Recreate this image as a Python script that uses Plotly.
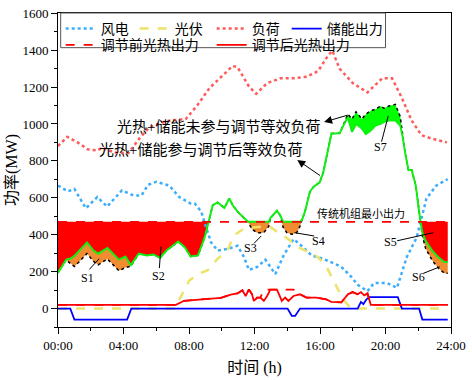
import plotly.graph_objects as go

# ---------------- data ----------------
tick_hours = [0, 4, 8, 12, 16, 20, 24]
tick_text = ["00:00", "04:00", "08:00", "12:00", "16:00", "20:00", "24:00"]

t_load = [0, 0.57, 1.2, 1.8, 2.4, 2.7, 3.0, 3.5, 4.3, 5.0, 5.6, 6.6, 7.8, 8.5, 9.25, 10.0, 10.66,
          10.96, 11.3, 11.66, 12.1, 12.77, 13.57, 14.38, 15.18, 15.88, 16.49, 16.75, 17.19, 18.0,
          18.9, 19.8, 20.4, 21.0, 21.6, 22.2, 22.8, 23.5, 23.75]
load = [880, 930, 900, 863, 856, 872, 860, 845, 842, 925, 983, 1015, 1027, 1100, 1194, 1260, 1314,
        1308, 1260, 1203, 1163, 1221, 1247, 1247, 1256, 1286, 1370, 1397, 1300, 1221,
        1171, 1247, 1247, 1141, 1018, 939, 921, 904, 900]

t_wind = [0, 0.6, 1.0, 1.7, 2.4, 3.0, 3.9, 4.6, 5.1, 5.5, 6.0, 6.8, 7.4, 8.1, 8.35, 8.75, 9.05, 9.35,
          9.75, 10.36, 10.96, 11.36, 11.66, 12.17, 12.66, 13.27, 13.78, 14.38, 14.98, 15.48, 16.19,
          16.9, 17.3, 17.9, 18.3, 18.9, 19.3, 20.1, 20.7, 21.3, 21.9, 22.5, 23.1, 23.8]
wind = [666, 635, 648, 543, 604, 552, 640, 613, 613, 670, 687, 666, 604, 569, 569, 525, 437, 358,
        314, 323, 340, 279, 209, 226, 265, 187, 288, 376, 332, 288, 270,
        244, 226, 173, 129, 94, 138, 138, 112, 279, 384, 596, 666, 701]

t_pv = [0, 7.1, 7.74, 8.0, 8.55, 9.15, 9.75, 10.36, 10.7, 11.3, 12.0, 12.9, 13.3, 14.0, 14.7, 15.7,
        16.3, 16.7, 17.1, 17.5, 17.9, 23.8]
pv = [0, 0, 103, 150, 187, 208, 270, 314, 393, 430, 440, 446, 420, 380, 330, 290,
      244, 173, 103, 41, 0, 0]

t_storage = [0, 0.75, 1.0, 4.22, 4.48, 14.02, 14.28, 14.48, 14.78, 18.3, 18.5, 18.65, 18.84, 19.0,
             20.75, 21.0, 22.05, 22.25, 23.8]
storage = [0, 0, -60, -60, 0, 0, -40, -40, 0, 0, 36, 24, 50, 62,
           62, 0, 0, -60, -60]

t_csp = [0, 7.2, 7.7, 9.2, 9.95, 10.55, 10.96, 11.26, 11.46, 11.66, 11.85, 11.96, 12.16, 12.36,
         12.57, 12.77, 12.97, 13.37, 13.67, 13.87, 14.07, 14.38, 14.78, 15.18, 15.78, 16.38, 16.68,
         17.3, 17.7, 17.99, 18.3, 18.5, 18.7, 18.9, 19.1, 23.8]
csp_after = [20, 20, 42, 50, 58, 75, 82, 99, 68, 103, 77, 41, 59, 59,
             41, 68, 103, 103, 41, 59, 41, 68, 77, 59, 59, 50, 36,
             33, 77, 89, 77, 89, 71, 82, 20, 20]
csp_before = [20, 20, 42, 50, 58, 75, 82, 99, 68, 103, 77, 41, 59, 59,
              103, 103, 103, 103, 103, 103, 103, 103, 77, 59, 59, 50, 36,
              33, 77, 89, 77, 89, 71, 82, 20, 20]

t_eq = [0, 0.5, 0.8, 1.0, 1.3, 1.77, 2.17, 2.45, 3.02, 3.72, 4.12, 4.45, 4.93, 5.43, 5.83, 6.23,
        6.63, 7.34, 7.74, 8.1, 8.55, 8.95, 9.2, 9.45, 9.75, 10.16, 10.46, 10.66, 10.96, 11.36,
        11.6, 11.85, 12.15, 12.57, 12.87, 12.97, 13.37, 13.57, 13.75, 13.97, 14.28, 14.58, 14.78,
        14.9, 15.08, 15.38, 15.58, 15.98, 16.2, 16.7, 17.2, 17.45, 17.7, 17.96, 18.2, 18.56, 18.8,
        19.1, 19.4, 19.7, 19.9, 20.2, 20.4, 20.6, 20.9, 21.05, 21.2, 21.4, 21.6, 21.85, 22.05,
        22.15, 22.25, 22.45, 22.85, 23.25, 23.6, 23.8]
eq_after = [194, 265, 272, 285, 314, 358, 314, 297, 328, 265, 282, 235, 297, 288, 293, 275,
            314, 363, 332, 282, 288, 384, 470, 560, 575, 545, 596, 561, 525, 490,
            470, 470, 470, 470, 470, 490, 530, 505, 470, 470, 470, 470, 470,
            480, 525, 631, 657, 684, 737, 948, 950, 995, 1035, 957, 1000, 975, 945,
            965, 992, 1000, 1010, 1018, 1018, 1018, 992, 930, 843, 750, 750, 666, 525,
            470, 411, 367, 314, 276, 252, 252]
eq_before = [194, 265, 240, 228, 254, 298, 256, 237, 268, 205, 222, 230, 297, 288, 293, 275,
             314, 363, 332, 282, 288, 384, 470, 560, 575, 545, 596, 561, 525, 490,
             470, 429, 411, 411, 446, 490, 530, 505, 440, 411, 402, 411, 446,
             480, 525, 631, 657, 684, 737, 948, 950, 1000, 1053, 1027, 1066, 1027, 1053,
             1071, 1080, 1097, 1085, 1097, 1103, 1106, 1040, 930, 843, 750, 750, 666, 525,
             470, 395, 325, 261, 217, 191, 191]

thermal_min = 470
t_thermal = [0, 23.8]

RED = "#ff0000"
ORANGE = "#f28c30"
GREEN = "#00ff00"
SERIF = "Liberation Serif, Noto Sans CJK SC"

fig = go.Figure()


def seg(t0, t1):
    return [i for i, t in enumerate(t_eq) if t0 <= t <= t1]


def band(idx, lo, hi, color):
    xs = [t_eq[i] for i in idx]
    fig.add_trace(go.Scatter(x=xs, y=[lo[i] for i in idx], mode="lines", line=dict(width=0),
                             showlegend=False, hoverinfo="skip"))
    fig.add_trace(go.Scatter(x=xs, y=[hi[i] for i in idx], mode="lines", line=dict(width=0),
                             fill="tonexty", fillcolor=color, showlegend=False, hoverinfo="skip"))


thermal_line = [thermal_min] * len(t_eq)
# red areas S2, S5
band(seg(0, 9.2), eq_after, thermal_line, RED)
band(seg(22.15, 23.8), eq_after, thermal_line, RED)
# orange areas S1, S3, S4, S6
band(seg(0.5, 4.45), eq_before, eq_after, ORANGE)
band(seg(11.6, 12.97), eq_before, eq_after, ORANGE)
band(seg(13.57, 14.9), eq_before, eq_after, ORANGE)
band(seg(22.15, 23.8), eq_before, eq_after, ORANGE)
# green area S7
band(seg(17.2, 21.05), eq_after, eq_before, GREEN)

fig.add_trace(go.Scatter(x=t_wind, y=wind, name="风电", mode="lines", legendwidth=29,
                         line=dict(color="#3aaefc", width=2.5, dash="dot"), legend="legend"))
fig.add_trace(go.Scatter(x=t_pv, y=pv, name="光伏", mode="lines", legendwidth=32,
                         line=dict(color="#ece36a", width=2.5, dash="dash"), legend="legend"))
fig.add_trace(go.Scatter(x=t_load, y=load, name="负荷", mode="lines", legendwidth=30,
                         line=dict(color="#ff5a5a", width=2.5, dash="dot"), legend="legend"))
fig.add_trace(go.Scatter(x=t_storage, y=storage, name="储能出力", mode="lines",
                         line=dict(color="#0000ff", width=1.8), legend="legend"))
fig.add_trace(go.Scatter(x=t_csp, y=csp_before, name="调节前光热出力", mode="lines", legendwidth=106,
                         line=dict(color=RED, width=1.8, dash="dash"), legend="legend2"))
fig.add_trace(go.Scatter(x=t_csp, y=csp_after, name="调节后光热出力", mode="lines",
                         line=dict(color=RED, width=1.8), legend="legend2"))
fig.add_trace(go.Scatter(x=t_eq, y=eq_before, name="光热+储能未参与调节等效负荷", mode="lines",
                         line=dict(color="black", width=1.5, dash="dot"), showlegend=False))
fig.add_trace(go.Scatter(x=t_eq, y=eq_after, name="光热+储能参与调节后等效负荷", mode="lines",
                         line=dict(color="#11ee11", width=2), showlegend=False))
fig.add_trace(go.Scatter(x=t_thermal, y=[thermal_min, thermal_min], name="传统机组最小出力",
                         mode="lines", line=dict(color=RED, width=1.8, dash="dash"),
                         showlegend=False))

annotations = [
    dict(x=9.8, y=985, text="光热+储能未参与调节等效负荷", showarrow=False,
         font=dict(size=15, family=SERIF, color="black")),
    dict(x=8.72, y=863, text="光热+储能参与调节后等效负荷", showarrow=False,
         font=dict(size=15, family=SERIF, color="black")),
    dict(x=18.53, y=516, text="传统机组最小出力", showarrow=False,
         font=dict(size=11, family=SERIF, color="black")),
    # arrows (head near text, tail on the curve)
    dict(x=16.25, y=1010, ax=17.78, ay=1050, xref="x", yref="y", axref="x", ayref="y",
         text="", showarrow=True, arrowhead=2, arrowsize=1.6, arrowwidth=1, arrowcolor="black"),
    dict(x=14.61, y=805, ax=16.09, ay=715, xref="x", yref="y", axref="x", ayref="y",
         text="", showarrow=True, arrowhead=2, arrowsize=1.6, arrowwidth=1, arrowcolor="black"),
]
labels = [("S1", 1.81, 164), ("S2", 6.13, 177), ("S3", 11.76, 328), ("S4", 15.9, 367),
          ("S5", 20.3, 358), ("S6", 22.0, 170), ("S7", 19.7, 877)]
for txt, lx, ly in labels:
    annotations.append(dict(x=lx, y=ly, text=txt, showarrow=False,
                            font=dict(size=12, family="Liberation Serif", color="black")))

leaders = [((1.915, 212), (2.515, 270)), ((6.19, 219), (6.285, 335)), ((11.97, 353), (12.41, 393)),
           ((15.65, 393), (14.44, 411)), ((20.71, 367), (22.92, 411)), ((22.32, 191), (23.32, 226)),
           ((19.76, 904), (20.17, 1044))]
shapes = []
for (x0, y0), (x1, y1) in leaders:
    shapes.append(dict(type="line", xref="x", yref="y", x0=x0, y0=y0, x1=x1, y1=y1,
                       line=dict(color="black", width=1)))
# legend frame
shapes.append(dict(type="rect", xref="paper", yref="paper", x0=0.0068, x1=0.8334, y0=0.8896, y1=1.0,
                   line=dict(color="#555555", width=1), fillcolor="rgba(0,0,0,0)"))

fig.update_layout(
    width=472, height=380,
    margin=dict(l=58, r=16, t=6, b=52),
    paper_bgcolor="white", plot_bgcolor="white",
    font=dict(family=SERIF, size=13, color="black"),
    showlegend=True,
    legend=dict(orientation="h", x=0.0068, y=1.0, xanchor="left", yanchor="top",
                bgcolor="rgba(0,0,0,0)", borderwidth=0, font=dict(size=14, family=SERIF),
                itemwidth=30, tracegroupgap=0, traceorder="normal"),
    legend2=dict(orientation="h", x=0.0068, y=0.948, xanchor="left", yanchor="top",
                 bgcolor="rgba(0,0,0,0)", borderwidth=0, font=dict(size=14, family=SERIF),
                 itemwidth=30, tracegroupgap=0, traceorder="normal"),
    annotations=annotations,
    shapes=shapes,
    xaxis=dict(range=[0, 24], tickvals=tick_hours, ticktext=tick_text, ticks="outside", ticklen=6,
               tickcolor="black", showline=True, linecolor="black", linewidth=1, mirror=True,
               showgrid=False, zeroline=False, ticklabeloverflow="allow",
               minor=dict(dtick=2, ticks="outside", ticklen=3, tickcolor="black"),
               title=dict(text="时间 (h)", font=dict(size=16, family=SERIF), standoff=10),
               tickfont=dict(size=13, family="Liberation Serif")),
    yaxis=dict(range=[-100, 1601], tickvals=[0, 200, 400, 600, 800, 1000, 1200, 1400, 1600],
               ticks="outside", ticklen=6, tickcolor="black",
               showline=True, linecolor="black", linewidth=1, mirror=True,
               showgrid=False, zeroline=False, ticklabeloverflow="allow",
               minor=dict(dtick=100, ticks="outside", ticklen=3, tickcolor="black"),
               title=dict(text="功率(MW)", font=dict(size=16, family=SERIF), standoff=0),
               tickfont=dict(size=13, family="Liberation Serif")),
)

fig.write_html("out.html", config={"displayModeBar": False},
               post_script="document.body.style.margin='0';")
